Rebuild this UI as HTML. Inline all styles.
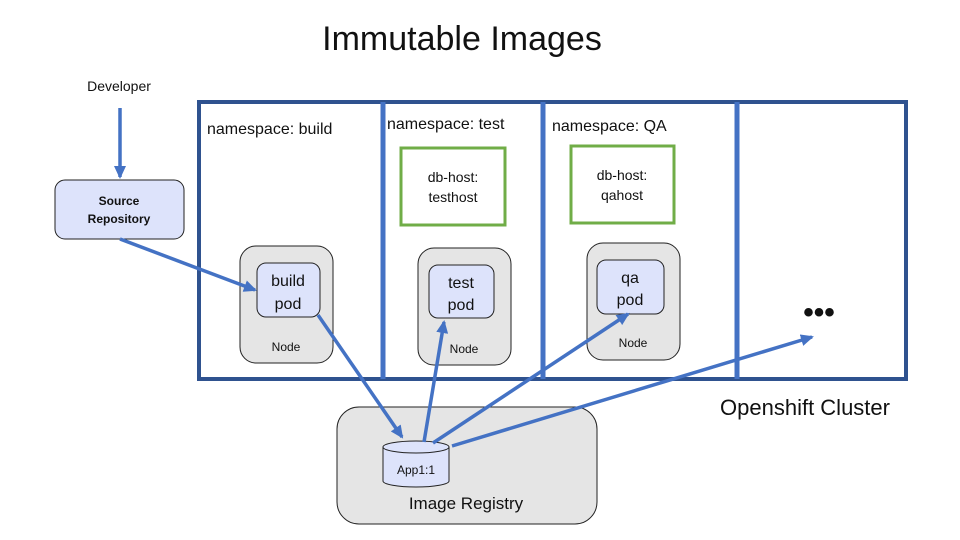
<!DOCTYPE html>
<html><head><style>body{margin:0;background:#fff}svg{display:block}text{font-family:"Liberation Sans",sans-serif;fill:#111}</style></head>
<body>
<svg width="960" height="540" viewBox="0 0 960 540">
<defs><marker id="a" markerWidth="14" markerHeight="12" refX="11" refY="6" orient="auto" markerUnits="userSpaceOnUse"><path d="M0,0 L13,6 L0,12 z" fill="#4472c4"/></marker></defs>
<text x="462" y="50" font-size="34" text-anchor="middle">Immutable Images</text>
<text x="119" y="91" font-size="14" text-anchor="middle">Developer</text>
<rect x="55" y="180" width="129" height="59" rx="10" fill="#dde3fb" stroke="#222" stroke-width="1"/>
<text x="119" y="205" font-size="12" font-weight="bold" text-anchor="middle">Source</text>
<text x="119" y="223" font-size="12" font-weight="bold" text-anchor="middle">Repository</text>
<rect x="199" y="102" width="707" height="277" fill="none" stroke="#2f528f" stroke-width="4"/>
<line x1="383" y1="102" x2="383" y2="379" stroke="#4472c4" stroke-width="5"/>
<line x1="543" y1="102" x2="543" y2="379" stroke="#4472c4" stroke-width="5"/>
<line x1="737" y1="102" x2="737" y2="379" stroke="#4472c4" stroke-width="5"/>
<text x="207" y="134" font-size="16">namespace: build</text>
<text x="387" y="129" font-size="16">namespace: test</text>
<text x="552" y="131" font-size="16">namespace: QA</text>
<rect x="401" y="148" width="104" height="77" fill="#fff" stroke="#70ad47" stroke-width="3"/>
<text x="453" y="182" font-size="14" text-anchor="middle">db-host:</text>
<text x="453" y="202" font-size="14" text-anchor="middle">testhost</text>
<rect x="571" y="146" width="103" height="77" fill="#fff" stroke="#70ad47" stroke-width="3"/>
<text x="622" y="180" font-size="14" text-anchor="middle">db-host:</text>
<text x="622" y="200" font-size="14" text-anchor="middle">qahost</text>
<rect x="240" y="246" width="93" height="117" rx="16" fill="#e5e5e5" stroke="#222"/>
<rect x="257" y="263" width="63" height="54" rx="9" fill="#dde3fb" stroke="#222"/>
<text x="288" y="286" font-size="16" text-anchor="middle">build</text>
<text x="288" y="309" font-size="16" text-anchor="middle">pod</text>
<text x="286" y="351" font-size="12" text-anchor="middle">Node</text>
<rect x="418" y="248" width="93" height="117" rx="16" fill="#e5e5e5" stroke="#222"/>
<rect x="429" y="265" width="65" height="53" rx="9" fill="#dde3fb" stroke="#222"/>
<text x="461" y="288" font-size="16" text-anchor="middle">test</text>
<text x="461" y="310" font-size="16" text-anchor="middle">pod</text>
<text x="464" y="353" font-size="12" text-anchor="middle">Node</text>
<rect x="587" y="243" width="93" height="117" rx="16" fill="#e5e5e5" stroke="#222"/>
<rect x="597" y="260" width="67" height="54" rx="9" fill="#dde3fb" stroke="#222"/>
<text x="630" y="283" font-size="16" text-anchor="middle">qa</text>
<text x="630" y="305" font-size="16" text-anchor="middle">pod</text>
<text x="633" y="347" font-size="12" text-anchor="middle">Node</text>
<text x="819" y="322" font-size="30" text-anchor="middle" font-weight="bold">•••</text>
<text x="805" y="415" font-size="22" text-anchor="middle">Openshift Cluster</text>
<rect x="337" y="407" width="260" height="117" rx="22" fill="#e5e5e5" stroke="#222"/>
<path d="M383,447 L383,481 A33,6 0 0 0 449,481 L449,447" fill="#dde3fb" stroke="#222"/>
<ellipse cx="416" cy="447" rx="33" ry="6" fill="#dde3fb" stroke="#222"/>
<text x="416" y="474" font-size="12" text-anchor="middle">App1:1</text>
<text x="466" y="509" font-size="17" text-anchor="middle">Image Registry</text>
<g stroke="#4472c4" stroke-width="3.5" fill="none" marker-end="url(#a)">
<line x1="120" y1="108" x2="120" y2="177"/>
<line x1="120" y1="239" x2="255" y2="290"/>
<line x1="318" y1="315" x2="402" y2="437"/>
<line x1="424" y1="442" x2="444" y2="322"/>
<line x1="433" y1="443" x2="628" y2="314"/>
<line x1="452" y1="446" x2="812" y2="337"/>
</g>
</svg>
</body></html>
